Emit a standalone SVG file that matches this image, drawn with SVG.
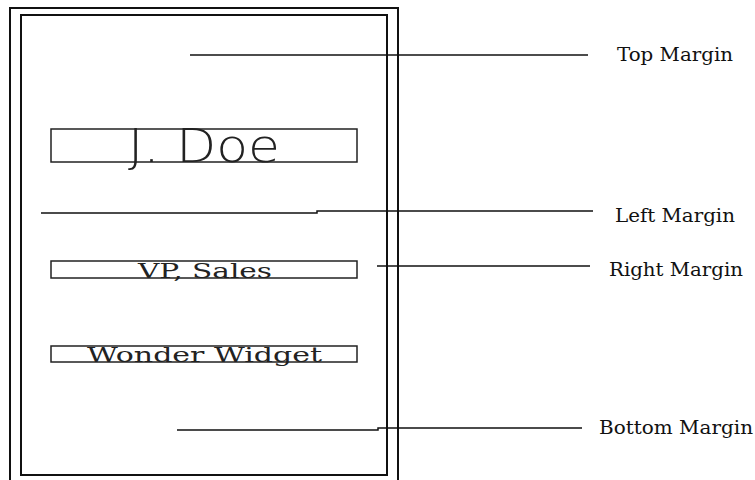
<svg xmlns="http://www.w3.org/2000/svg" width="755" height="480" viewBox="0 0 755 480">
<style>
.frame{fill:none;stroke:#111;stroke-width:2}
.box{fill:none;stroke:#222;stroke-width:1.5}
.ln{fill:none;stroke:#111;stroke-width:1.5}
.lbl{font-family:"DejaVu Serif","Liberation Serif",serif;font-size:19px;fill:#111}
.big{font-family:"DejaVu Sans","Liberation Sans",sans-serif;font-weight:200;fill:#222}
.slab{font-family:"DejaVu Serif","Liberation Serif",serif;fill:#222}
</style>
<rect width="755" height="480" fill="#fff"/>
<g id="page">
<rect class="frame" x="10" y="8" width="388" height="482"/>
<rect class="frame" x="21" y="15" width="366" height="460"/>
</g>
<g id="name">
<rect class="box" x="51" y="129" width="306" height="33"/>
<text class="big" x="128" y="162" font-size="46" textLength="152" lengthAdjust="spacingAndGlyphs">J. Doe</text>
</g>
<g id="title">
<rect class="box" x="51" y="261" width="306" height="17"/>
<text class="slab" x="138" y="278" font-size="21" textLength="134" lengthAdjust="spacingAndGlyphs">VP, Sales</text>
</g>
<g id="company">
<rect class="box" x="51" y="346" width="306" height="16"/>
<text class="slab" x="87" y="362" font-size="21" textLength="235" lengthAdjust="spacingAndGlyphs">Wonder Widget</text>
</g>
<g id="connectors">
<line class="ln" x1="190" y1="55" x2="588" y2="55"/>
<polyline class="ln" points="41,213 317,213 317,211 593,211"/>
<line class="ln" x1="377" y1="266" x2="590" y2="266"/>
<polyline class="ln" points="177,430 378,430 378,428 582,428"/>
</g>
<g id="labels">
<text class="lbl" x="617" y="61" textLength="116" lengthAdjust="spacingAndGlyphs">Top Margin</text>
<text class="lbl" x="615" y="222" textLength="120" lengthAdjust="spacingAndGlyphs">Left Margin</text>
<text class="lbl" x="609" y="276" textLength="134" lengthAdjust="spacingAndGlyphs">Right Margin</text>
<text class="lbl" x="599" y="434" textLength="154" lengthAdjust="spacingAndGlyphs">Bottom Margin</text>
</g>
</svg>
